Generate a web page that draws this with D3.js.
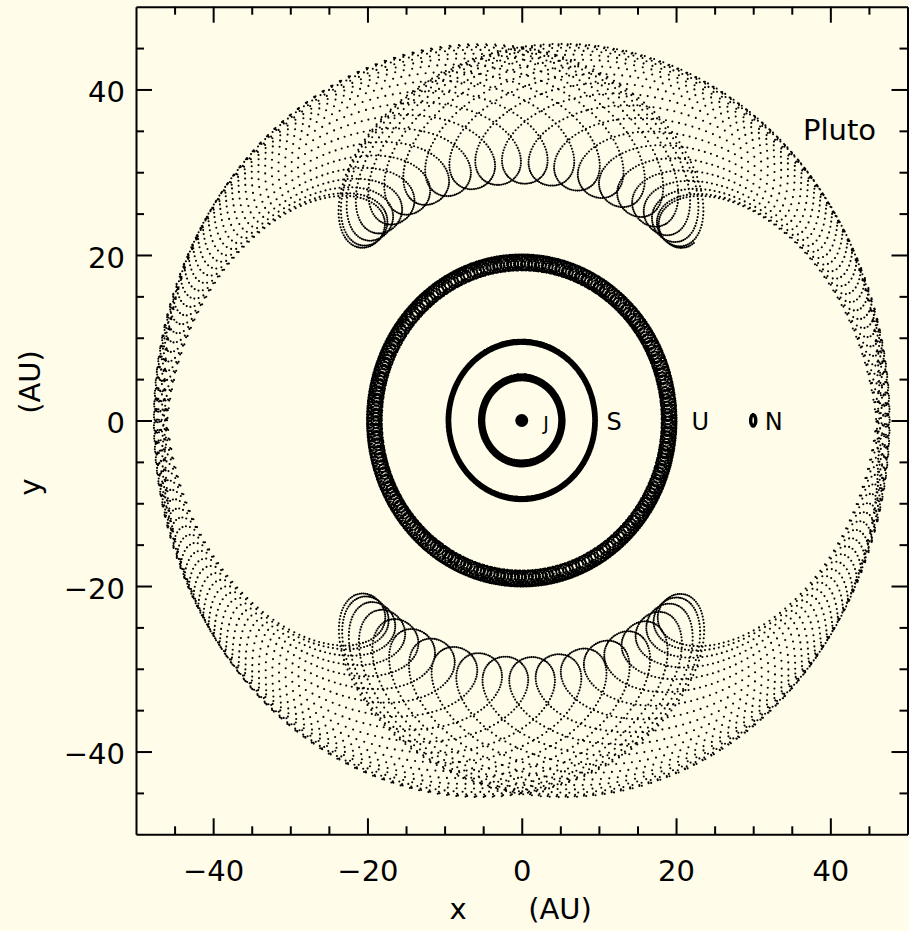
<!DOCTYPE html>
<html>
<head>
<meta charset="utf-8">
<script src="https://cdn.jsdelivr.net/npm/d3@7"></script>
<style>
  html, body { margin: 0; padding: 0; background: #fffce9; }
  svg { display: block; }
  text { font-family: "DejaVu Sans", sans-serif; fill: #000; }
</style>
</head>
<body>
<svg id="chart" width="909" height="931"></svg>
<script>
// Outer solar system seen in a frame co-rotating with Neptune (Neptune fixed on +x),
// positions projected onto the reference plane.

// Planet orbital elements (AU, years, degrees)
const planetNames   = ["J", "S", "U", "N"];
const planetA       = [5.2, 9.5, 19.1, 30.0];
const planetE       = [0.065, 0.025, 0.05, 0.011];
const planetPeriod  = [11.86, 29.46, 84.01, 164.79];
const planetPeri    = [14, 93, 173, 48];
const planetLambda0 = [34, 50, 314, 0];

// Pluto: orbital elements, 3:2 resonance with Neptune,
// libration of the resonant angle about 180 deg
const plutoA        = 39.5;
const plutoE        = 0.25;
const plutoIncl     = 15;     // deg
const plutoArgPeri  = 90;     // deg
const plutoResonance = [3, 2];
const plutoLibAmp    = 82;     // deg
const plutoLibPeriod = 20000;  // yr

// Integration span and output step (yr)
const spanYears = 10000;
const stepYears = 1.25;

// Axes
const axisDomain = [-50, 50];
const majorTicks = [-40, -20, 0, 20, 40];
const minorTicks = [-45, -35, -30, -25, -15, -10, -5, 5, 10, 15, 25, 30, 35, 45];

// ---------------------------------------------------------------------------
const TAU = 2 * Math.PI;
const rad = d => d * Math.PI / 180;

function eccAnomaly(M, e) {
  M = ((M % TAU) + TAU) % TAU;
  let E = M + e * Math.sin(M);
  for (let k = 0; k < 12; k++) E -= (E - e * Math.sin(E) - M) / (1 - e * Math.cos(E));
  return E;
}
function radiusAndTrueAnomaly(a, e, M) {
  const E = eccAnomaly(M, e);
  const r = a * (1 - e * Math.cos(E));
  const f = 2 * Math.atan2(Math.sqrt(1 + e) * Math.sin(E / 2), Math.sqrt(1 - e) * Math.cos(E / 2));
  return [r, f];
}

const nNep = TAU / planetPeriod[3];
const times = d3.range(0, spanYears + stepYears / 2, stepYears);

// planets in the rotating frame
const planetTracks = planetNames.map((name, i) => {
  const n = TAU / planetPeriod[i];
  const peri = rad(planetPeri[i]);
  return times.map(t => {
    const lam = rad(planetLambda0[i]) + n * t;
    const [r, f] = radiusAndTrueAnomaly(planetA[i], planetE[i], lam - peri);
    const psi = peri + f - nNep * t;
    return [r * Math.cos(psi), r * Math.sin(psi)];
  });
});

// Pluto in the rotating frame (node on +X, so longitude of perihelion = argument of perihelion)
const [pk, nk] = plutoResonance;
const cosI = Math.cos(rad(plutoIncl));
const omega = rad(plutoArgPeri);
const plutoTrack = times.map(t => {
  const lamN = nNep * t;
  const phi = Math.PI + rad(plutoLibAmp) * Math.sin(TAU * t / plutoLibPeriod - Math.PI / 2);
  const lamP = (phi + nk * lamN + omega) / pk;
  const [r, f] = radiusAndTrueAnomaly(plutoA, plutoE, lamP - omega);
  const u = omega + f;
  const X = r * Math.cos(u), Y = r * Math.sin(u) * cosI;
  return [X * Math.cos(lamN) + Y * Math.sin(lamN), -X * Math.sin(lamN) + Y * Math.cos(lamN)];
});

// ---------------------------------------------------------------------------
const svg = d3.select("#chart");
const x = d3.scaleLinear().domain(axisDomain).range([136, 907.5]);
const y = d3.scaleLinear().domain(axisDomain).range([834.3, 6.7]);

const dotPath = pts => pts.map(([px, py]) =>
  `M${x(px).toFixed(1)},${y(py).toFixed(1)}h0.01`).join("");

const dotWidth = { J: 2.3, S: 2.3, U: 2.3, N: 3.5 };

const marks = svg.append("g").attr("class", "marks");
marks.append("path")
  .attr("d", dotPath(plutoTrack))
  .attr("fill", "none").attr("stroke", "#000")
  .attr("stroke-width", 2.1).attr("stroke-linecap", "round");

planetTracks.forEach((track, i) => {
  marks.append("path")
    .attr("d", dotPath(track))
    .attr("fill", "none").attr("stroke", "#000")
    .attr("stroke-width", dotWidth[planetNames[i]]).attr("stroke-linecap", "round");
});

// the Sun
marks.append("circle")
  .attr("cx", x(0)).attr("cy", y(0)).attr("r", 6.5).attr("fill", "#000");

// planet labels
const labelStartAU = { J: 2.8, S: 11.0, U: 22.0, N: 31.5 };
const labelSize = { J: 19, S: 24, U: 24, N: 24 };
svg.append("g").selectAll("text").data(planetNames).join("text")
  .attr("x", d => x(labelStartAU[d]))
  .attr("y", y(0) + 9.5)
  .attr("font-size", d => labelSize[d])
  .text(d => d);

svg.append("text").attr("x", 803).attr("y", 140).attr("font-size", 29).text("Pluto");

// ---------------------------------------------------------------------------
// Axes: ticks point inwards on all four sides, labels on bottom and left only
const fontSize = 29;
function styleAxis(g, keepDomain) {
  g.selectAll(".tick line").attr("stroke", "#000").attr("stroke-width", 2);
  if (keepDomain) g.select(".domain").attr("stroke", "#000").attr("stroke-width", 2);
  else g.select(".domain").remove();
  g.selectAll("text").attr("font-size", fontSize).attr("font-family", '"DejaVu Sans", sans-serif').attr("fill", "#000");
}

const axBottom = svg.append("g").attr("transform", `translate(0,${y(-50)})`);
axBottom.append("g").call(d3.axisBottom(x).tickValues(majorTicks).tickSizeInner(-16).tickSizeOuter(0).tickPadding(26))
  .call(g => styleAxis(g, true));
axBottom.append("g").call(d3.axisBottom(x).tickValues(minorTicks).tickSizeInner(-8).tickSizeOuter(0).tickFormat(""))
  .call(g => styleAxis(g, false));

const axTop = svg.append("g").attr("transform", `translate(0,${y(50)})`);
axTop.append("g").call(d3.axisTop(x).tickValues(majorTicks).tickSizeInner(-16).tickSizeOuter(0).tickFormat(""))
  .call(g => styleAxis(g, true));
axTop.append("g").call(d3.axisTop(x).tickValues(minorTicks).tickSizeInner(-8).tickSizeOuter(0).tickFormat(""))
  .call(g => styleAxis(g, false));

const axLeft = svg.append("g").attr("transform", `translate(${x(-50)},0)`);
axLeft.append("g").call(d3.axisLeft(y).tickValues(majorTicks).tickSizeInner(-16).tickSizeOuter(0).tickPadding(11))
  .call(g => styleAxis(g, true))
  .call(g => g.selectAll("text").attr("dy", "0.42em"));
axLeft.append("g").call(d3.axisLeft(y).tickValues(minorTicks).tickSizeInner(-8).tickSizeOuter(0).tickFormat(""))
  .call(g => styleAxis(g, false));

const axRight = svg.append("g").attr("transform", `translate(${x(50)},0)`);
axRight.append("g").call(d3.axisRight(y).tickValues(majorTicks).tickSizeInner(-16).tickSizeOuter(0).tickFormat(""))
  .call(g => styleAxis(g, true));
axRight.append("g").call(d3.axisRight(y).tickValues(minorTicks).tickSizeInner(-8).tickSizeOuter(0).tickFormat(""))
  .call(g => styleAxis(g, false));

// axis titles
svg.append("text").attr("x", 458).attr("y", 919).attr("text-anchor", "middle").attr("font-size", fontSize).text("x");
svg.append("text").attr("x", 560).attr("y", 919).attr("text-anchor", "middle").attr("font-size", fontSize).text("(AU)");
svg.append("text").attr("transform", "translate(40,487) rotate(-90)").attr("text-anchor", "middle").attr("font-size", fontSize).text("y");
svg.append("text").attr("transform", "translate(40,382) rotate(-90)").attr("text-anchor", "middle").attr("font-size", fontSize).text("(AU)");
</script>
</body>
</html>
